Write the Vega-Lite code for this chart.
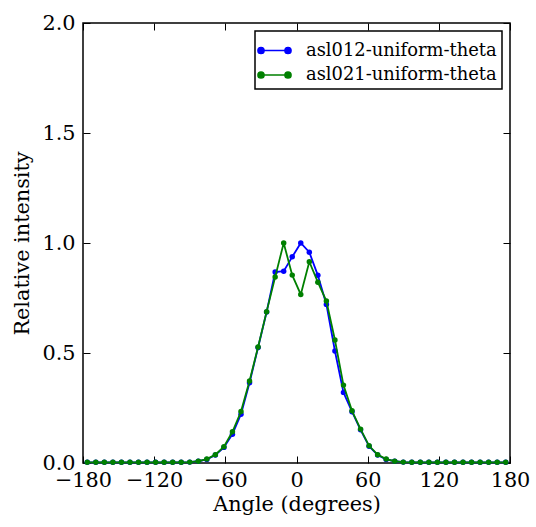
{
  "$schema": "https://vega.github.io/schema/vega-lite/v6.json",
  "width": 427,
  "height": 440,
  "autosize": {"type": "none"},
  "padding": {"left": 83, "top": 23, "right": 26, "bottom": 64},
  "background": "white",
  "config": {
    "font": "'DejaVu Serif', serif",
    "view": {"stroke": "black", "strokeWidth": 1.5},
    "axis": {
      "domain": false,
      "grid": false,
      "ticks": true,
      "tickColor": "black",
      "tickWidth": 1,
      "tickSize": -7,
      "labelFont": "'DejaVu Serif', serif",
      "labelFontSize": 20.8,
      "labelColor": "black",
      "labelFlush": false,
      "labelOverlap": false,
      "labelPadding": 14,
      "titleFont": "'DejaVu Serif', serif",
      "titleFontSize": 20.8,
      "titleFontWeight": "normal",
      "titleColor": "black"
    },
    "legend": {
      "orient": "top-right",
      "offset": 8,
      "strokeColor": "black",
      "strokeWidth": 1.5,
      "fillColor": "white",
      "padding": 5,
      "rowPadding": 0.5,
      "cornerRadius": 0,
      "labelFont": "'DejaVu Serif', serif",
      "labelFontSize": 17.9,
      "labelColor": "black",
      "labelLimit": 400,
      "labelOffset": 17,
      "symbolType": "M-1,0H1M-0.778,0A0.222,0.222,0,1,1,-1.222,0A0.222,0.222,0,1,1,-0.778,0ZM1.222,0A0.222,0.222,0,1,1,0.778,0A0.222,0.222,0,1,1,1.222,0Z",
      "symbolSize": 729,
      "symbolStrokeWidth": 1.7,
      "symbolOpacity": 1
    }
  },
  "data": {
    "values": [
      {"angle": -176.4, "asl012-uniform-theta": 0.003, "asl021-uniform-theta": 0.003},
      {"angle": -169.2, "asl012-uniform-theta": 0.003, "asl021-uniform-theta": 0.003},
      {"angle": -162.0, "asl012-uniform-theta": 0.003, "asl021-uniform-theta": 0.003},
      {"angle": -154.8, "asl012-uniform-theta": 0.003, "asl021-uniform-theta": 0.003},
      {"angle": -147.6, "asl012-uniform-theta": 0.003, "asl021-uniform-theta": 0.003},
      {"angle": -140.4, "asl012-uniform-theta": 0.003, "asl021-uniform-theta": 0.003},
      {"angle": -133.2, "asl012-uniform-theta": 0.003, "asl021-uniform-theta": 0.003},
      {"angle": -126.0, "asl012-uniform-theta": 0.003, "asl021-uniform-theta": 0.003},
      {"angle": -118.8, "asl012-uniform-theta": 0.003, "asl021-uniform-theta": 0.003},
      {"angle": -111.6, "asl012-uniform-theta": 0.003, "asl021-uniform-theta": 0.003},
      {"angle": -104.4, "asl012-uniform-theta": 0.003, "asl021-uniform-theta": 0.003},
      {"angle": -97.2, "asl012-uniform-theta": 0.003, "asl021-uniform-theta": 0.003},
      {"angle": -90.0, "asl012-uniform-theta": 0.004, "asl021-uniform-theta": 0.004},
      {"angle": -82.8, "asl012-uniform-theta": 0.008, "asl021-uniform-theta": 0.008},
      {"angle": -75.6, "asl012-uniform-theta": 0.016, "asl021-uniform-theta": 0.018},
      {"angle": -68.4, "asl012-uniform-theta": 0.036, "asl021-uniform-theta": 0.038},
      {"angle": -61.2, "asl012-uniform-theta": 0.071, "asl021-uniform-theta": 0.074},
      {"angle": -54.0, "asl012-uniform-theta": 0.131, "asl021-uniform-theta": 0.142},
      {"angle": -46.8, "asl012-uniform-theta": 0.222, "asl021-uniform-theta": 0.234},
      {"angle": -39.6, "asl012-uniform-theta": 0.365, "asl021-uniform-theta": 0.373},
      {"angle": -32.4, "asl012-uniform-theta": 0.525, "asl021-uniform-theta": 0.527},
      {"angle": -25.2, "asl012-uniform-theta": 0.686, "asl021-uniform-theta": 0.688},
      {"angle": -18.0, "asl012-uniform-theta": 0.868, "asl021-uniform-theta": 0.845},
      {"angle": -10.8, "asl012-uniform-theta": 0.872, "asl021-uniform-theta": 1.0},
      {"angle": -3.6, "asl012-uniform-theta": 0.937, "asl021-uniform-theta": 0.854},
      {"angle": 3.6, "asl012-uniform-theta": 1.0, "asl021-uniform-theta": 0.766},
      {"angle": 10.8, "asl012-uniform-theta": 0.958, "asl021-uniform-theta": 0.915},
      {"angle": 18.0, "asl012-uniform-theta": 0.853, "asl021-uniform-theta": 0.822},
      {"angle": 25.2, "asl012-uniform-theta": 0.721, "asl021-uniform-theta": 0.736},
      {"angle": 32.4, "asl012-uniform-theta": 0.509, "asl021-uniform-theta": 0.559},
      {"angle": 39.6, "asl012-uniform-theta": 0.321, "asl021-uniform-theta": 0.354},
      {"angle": 46.8, "asl012-uniform-theta": 0.233, "asl021-uniform-theta": 0.237},
      {"angle": 54.0, "asl012-uniform-theta": 0.151, "asl021-uniform-theta": 0.154},
      {"angle": 61.2, "asl012-uniform-theta": 0.076, "asl021-uniform-theta": 0.078},
      {"angle": 68.4, "asl012-uniform-theta": 0.036, "asl021-uniform-theta": 0.038},
      {"angle": 75.6, "asl012-uniform-theta": 0.016, "asl021-uniform-theta": 0.018},
      {"angle": 82.8, "asl012-uniform-theta": 0.008, "asl021-uniform-theta": 0.008},
      {"angle": 90.0, "asl012-uniform-theta": 0.004, "asl021-uniform-theta": 0.004},
      {"angle": 97.2, "asl012-uniform-theta": 0.003, "asl021-uniform-theta": 0.003},
      {"angle": 104.4, "asl012-uniform-theta": 0.003, "asl021-uniform-theta": 0.003},
      {"angle": 111.6, "asl012-uniform-theta": 0.003, "asl021-uniform-theta": 0.003},
      {"angle": 118.8, "asl012-uniform-theta": 0.003, "asl021-uniform-theta": 0.003},
      {"angle": 126.0, "asl012-uniform-theta": 0.003, "asl021-uniform-theta": 0.003},
      {"angle": 133.2, "asl012-uniform-theta": 0.003, "asl021-uniform-theta": 0.003},
      {"angle": 140.4, "asl012-uniform-theta": 0.003, "asl021-uniform-theta": 0.003},
      {"angle": 147.6, "asl012-uniform-theta": 0.003, "asl021-uniform-theta": 0.003},
      {"angle": 154.8, "asl012-uniform-theta": 0.003, "asl021-uniform-theta": 0.003},
      {"angle": 162.0, "asl012-uniform-theta": 0.003, "asl021-uniform-theta": 0.003},
      {"angle": 169.2, "asl012-uniform-theta": 0.003, "asl021-uniform-theta": 0.003},
      {"angle": 176.4, "asl012-uniform-theta": 0.003, "asl021-uniform-theta": 0.003}
    ]
  },
  "transform": [
    {"fold": ["asl012-uniform-theta", "asl021-uniform-theta"], "as": ["run", "intensity"]}
  ],
  "layer": [
    {
      "transform": [{"filter": "datum.run === 'asl012-uniform-theta'"}],
      "mark": {"type": "line", "strokeWidth": 1.8, "point": {"size": 30, "filled": true, "opacity": 1}},
      "encoding": {
        "x": {"field": "angle", "type": "quantitative",
              "scale": {"domain": [-180, 180], "nice": false, "zero": false},
              "axis": {"orient": "bottom", "title": "Angle (degrees)", "values": [-180, -120, -60, 0, 60, 120, 180], "titlePadding": 5}},
        "y": {"field": "intensity", "type": "quantitative",
              "scale": {"domain": [0, 2], "nice": false},
              "axis": {"orient": "left", "title": "Relative intensity", "values": [0, 0.5, 1, 1.5, 2], "format": ".1f", "labelPadding": 15, "titlePadding": 9}},
        "color": {"field": "run", "type": "nominal",
                  "scale": {"domain": ["asl012-uniform-theta", "asl021-uniform-theta"], "range": ["#0000ff", "#008000"]},
                  "legend": {"title": null, "encode": {"symbols": {"update": {"fill": {"scale": "color", "field": "value"}, "stroke": {"scale": "color", "field": "value"}}}}}}
      }
    },
    {
      "transform": [{"filter": "datum.run === 'asl021-uniform-theta'"}],
      "mark": {"type": "line", "strokeWidth": 1.8, "point": {"size": 30, "filled": true, "opacity": 1}},
      "encoding": {
        "x": {"field": "angle", "type": "quantitative", "axis": null},
        "y": {"field": "intensity", "type": "quantitative", "axis": null},
        "color": {"field": "run", "type": "nominal"}
      }
    },
    {
      "mark": {"type": "point", "opacity": 0},
      "encoding": {
        "x": {"field": "angle", "type": "quantitative",
              "axis": {"orient": "top", "labels": false, "title": null, "values": [-180, -120, -60, 0, 60, 120, 180]}},
        "y": {"field": "intensity", "type": "quantitative",
              "axis": {"orient": "right", "labels": false, "title": null, "values": [0, 0.5, 1, 1.5, 2]}}
      }
    }
  ],
  "resolve": {"axis": {"x": "independent", "y": "independent"}}
}
